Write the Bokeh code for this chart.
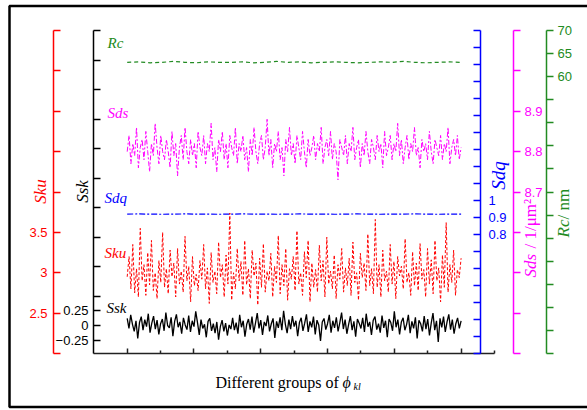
import numpy as np
from math import pi
from bokeh.plotting import figure
from bokeh.models import Range1d, LinearAxis, FixedTicker, Label, BoxAnnotation
from bokeh.embed import file_html
from bokeh.resources import INLINE

# ---------------- data ----------------
ssk = [0.12, -0.05, 0.18, 0.02, -0.10, 0.08, -0.22, 0.05, 0.15, -0.08, 0.10, -0.02, 0.20, -0.12, 0.04, 0.16, -0.06, 0.09, -0.15, 0.03,
       0.11, -0.09, 0.22, 0.00, -0.04, 0.14, -0.18, 0.07, 0.19, -0.03, 0.06, -0.14, 0.13, 0.01, -0.07, 0.17, -0.11, 0.08, -0.02, 0.24,
       0.05, -0.16, 0.10, -0.05, 0.02, -0.20, 0.07, 0.12, -0.09, 0.03, -0.13, 0.06, -0.24, -0.02, 0.09, -0.10, 0.04, -0.17, 0.01, -0.06,
       0.13, -0.08, 0.05, -0.14, 0.18, -0.03, 0.08, -0.19, 0.02, 0.11, -0.07, 0.15, -0.12, 0.04, 0.21, -0.05, 0.09, -0.16, 0.06, -0.01,
       0.17, -0.10, 0.03, 0.12, -0.21, 0.07, -0.04, 0.14, -0.08, 0.25, 0.02, -0.13, 0.10, -0.06, 0.16, -0.02, 0.08, -0.18, 0.05, 0.13,
       -0.09, 0.04, 0.19, -0.11, 0.07, -0.03, 0.15, -0.15, 0.09, 0.01, -0.26, 0.06, 0.12, -0.07, 0.03, 0.18, -0.12, 0.08, -0.04, 0.14,
       -0.10, 0.05, 0.22, -0.06, 0.10, -0.14, 0.02, 0.16, -0.08, 0.07, -0.19, 0.11, 0.04, -0.05, 0.13, -0.11, 0.20, -0.02, 0.06, -0.16,
       0.09, 0.15, -0.07, 0.03, -0.12, 0.17, -0.04, 0.08, -0.20, 0.11, 0.05, -0.09, 0.24, -0.03, 0.10, -0.15, 0.06, 0.13, -0.08, 0.02,
       0.18, -0.13, 0.07, -0.05, 0.14, -0.22, 0.09, 0.03, -0.10, 0.16, -0.06, 0.11, -0.17, 0.04, 0.21, -0.08, 0.08, -0.28, 0.12, -0.03,
       0.15, -0.11, 0.06, 0.19, -0.07, 0.10, -0.14, 0.03, 0.13, -0.05, 0.08]

sku = [2.95, 3.20, 2.80, 3.35, 2.75, 3.05, 2.70, 3.55, 2.90, 3.10, 2.72, 3.25, 2.85, 3.40, 2.78, 3.00, 2.68, 3.15, 2.88, 3.50,
       2.82, 3.05, 2.74, 3.28, 2.95, 3.12, 2.70, 3.30, 2.86, 3.02, 2.76, 3.45, 2.90, 3.08, 2.64, 3.20, 2.84, 2.98, 2.78, 3.15,
       2.92, 3.35, 2.80, 3.06, 2.62, 3.25, 2.88, 3.02, 2.74, 3.38, 2.94, 3.10, 2.70, 3.22, 2.86, 3.74, 2.66, 3.00, 2.80, 3.30,
       2.90, 3.14, 2.72, 3.40, 2.85, 3.05, 2.68, 3.28, 2.96, 3.12, 2.60, 3.18, 2.82, 3.36, 2.76, 3.02, 2.90, 3.24, 2.70, 3.08,
       2.88, 3.46, 2.74, 3.10, 2.84, 3.30, 2.66, 3.05, 2.92, 3.20, 2.78, 3.52, 2.86, 3.00, 2.72, 3.26, 2.94, 3.40, 2.64, 3.12,
       2.82, 3.04, 2.76, 3.34, 2.90, 3.15, 2.70, 3.44, 2.86, 3.02, 2.80, 3.22, 2.68, 3.10, 2.92, 3.30, 2.76, 3.06, 2.84, 3.18,
       2.72, 3.38, 2.88, 3.00, 2.66, 3.24, 2.94, 3.12, 2.78, 3.48, 2.84, 3.05, 2.74, 3.66, 2.82, 3.10, 2.70, 3.28, 2.90, 3.02,
       2.76, 3.35, 2.86, 3.14, 2.68, 3.20, 2.96, 3.08, 2.80, 3.42, 2.88, 3.00, 2.72, 3.26, 2.84, 3.12, 2.78, 3.36, 2.92, 3.04,
       2.70, 3.30, 2.86, 3.16, 2.74, 3.40, 2.90, 3.06, 2.64, 3.22, 2.82, 3.62, 2.76, 3.10, 2.88, 3.28, 2.72, 3.04, 2.94, 3.18]

sds = [8.80, 8.84, 8.77, 8.82, 8.79, 8.86, 8.76, 8.81, 8.83, 8.78, 8.85, 8.80, 8.75, 8.82, 8.79, 8.87, 8.81, 8.77, 8.84, 8.80,
       8.78, 8.83, 8.80, 8.76, 8.85, 8.79, 8.82, 8.74, 8.81, 8.84, 8.78, 8.86, 8.80, 8.77, 8.83, 8.79, 8.82, 8.76, 8.85, 8.81,
       8.79, 8.84, 8.77, 8.82, 8.80, 8.87, 8.78, 8.81, 8.75, 8.83, 8.80, 8.85, 8.78, 8.82, 8.76, 8.84, 8.81, 8.79, 8.86, 8.77,
       8.82, 8.80, 8.84, 8.78, 8.81, 8.75, 8.83, 8.79, 8.86, 8.80, 8.77, 8.82, 8.84, 8.78, 8.81, 8.88, 8.79, 8.83, 8.76, 8.82,
       8.80, 8.85, 8.78, 8.81, 8.74, 8.83, 8.80, 8.86, 8.79, 8.82, 8.77, 8.84, 8.81, 8.78, 8.85, 8.80, 8.76, 8.83, 8.79, 8.81,
       8.84, 8.78, 8.82, 8.80, 8.86, 8.77, 8.81, 8.83, 8.79, 8.85, 8.78, 8.82, 8.80, 8.73, 8.83, 8.81, 8.79, 8.84, 8.77, 8.82,
       8.80, 8.86, 8.78, 8.81, 8.83, 8.76, 8.82, 8.79, 8.85, 8.80, 8.77, 8.83, 8.81, 8.78, 8.84, 8.80, 8.82, 8.76, 8.85, 8.79,
       8.81, 8.84, 8.78, 8.82, 8.80, 8.87, 8.79, 8.83, 8.77, 8.81, 8.84, 8.78, 8.82, 8.80, 8.86, 8.79, 8.81, 8.76, 8.83, 8.80,
       8.82, 8.78, 8.85, 8.80, 8.77, 8.83, 8.81, 8.79, 8.84, 8.78, 8.82, 8.80, 8.86, 8.77, 8.81, 8.83, 8.79, 8.84, 8.78, 8.81]

sdq = [0.920, 0.921, 0.920, 0.919, 0.920, 0.921, 0.920, 0.920, 0.919, 0.920, 0.921, 0.920, 0.920, 0.919, 0.920,
       0.921, 0.920, 0.920, 0.919, 0.920, 0.921, 0.920, 0.919, 0.920, 0.920, 0.921, 0.920, 0.919, 0.920, 0.920]

rc = [63.1, 63.2, 63.0, 63.1, 63.3, 63.1, 63.0, 63.2, 63.1, 63.1, 63.2, 63.0, 63.1, 63.3, 63.1,
      63.2, 63.0, 63.1, 63.2, 63.1, 63.0, 63.1, 63.2, 63.1, 63.3, 63.1, 63.0, 63.1, 63.2, 63.1]

x_major = [0, 200, 400, 600, 800, 1000]
x_minor = [100, 300, 500, 700, 900, 1100]

ssk_major = [-0.25, 0.0, 0.25]
ssk_minor = [0.5, 1.0, 1.5, 2.0, 2.5, 3.0, 3.5, 4.0, 4.5, 5.0]
sku_major = [2.5, 3.0, 3.5]
sku_minor = [2.0, 4.0, 4.5, 5.0, 5.5, 6.0]
sdq_major = [0.8, 0.9, 1.0]
sdq_minor = [0.1, 0.2, 0.3, 0.4, 0.5, 0.6, 0.7, 1.1, 1.2, 1.3, 1.4, 1.5, 1.6, 1.7, 1.8, 1.9, 2.0]
sds_major = [8.7, 8.8, 8.9]
sds_minor = [8.3, 8.4, 8.5, 8.6, 9.0, 9.1]
rc_major = [60, 65, 70]
rc_minor = [0, 5, 10, 15, 20, 25, 30, 35, 40, 45, 50, 55]

# ---------------- geometry (canvas pixels) ----------------
W, H = 587, 410
AX_L, AX_R, AX_T, AX_B = 93, 494, 30, 353   # extent of the axes box


def lin_range(va, pa, vb, pb, lo_px, hi_px):
    """Range whose values va, vb sit at pixels pa, pb; returned for pixels lo_px..hi_px."""
    k = (vb - va) / (pb - pa)
    return va + (lo_px - pa) * k, va + (hi_px - pa) * k


X0, X1 = lin_range(0, 126.7, 1000, 460.6, 0, W)
SSK = lin_range(0.0, 325.0, 5.0, 30.0, H, 0)
SKU = lin_range(2.0, AX_B, 6.0, AX_T, H, 0)
SDQ = lin_range(0.1, AX_B, 2.0, AX_T, H, 0)
SDS = lin_range(8.3, AX_B, 9.1, AX_T, H, 0)
RC = lin_range(0.0, AX_B, 70.0, AX_T, H, 0)


def xd(px):
    return X0 + px * (X1 - X0) / W


def yd(py):
    return SSK[0] + (H - py) * (SSK[1] - SSK[0]) / H


RED, BLACK, BLUE, MAG, GREEN = "#ff0000", "#000000", "#0000ff", "#ff00ff", "#228b22"
SERIF = "Liberation Serif"
SANS = "Liberation Sans"

p = figure(width=W, height=H, x_range=Range1d(X0, X1), y_range=Range1d(*SSK),
           x_axis_location=None, y_axis_location=None, toolbar_location=None,
           output_backend="svg", min_border=0, min_border_left=0, min_border_right=0,
           min_border_top=0, min_border_bottom=0)
p.outline_line_color = None
p.background_fill_color = "white"
p.border_fill_color = "white"
p.xgrid.visible = False
p.ygrid.visible = False
p.extra_y_ranges = {"sku": Range1d(*SKU), "sdq": Range1d(*SDQ),
                    "sds": Range1d(*SDS), "rc": Range1d(*RC)}


def style_axis(ax, color, tin, tout, standoff, width=1.5):
    ax.axis_line_color = color
    ax.axis_line_width = width
    ax.major_tick_line_color = color
    ax.minor_tick_line_color = color
    ax.major_tick_line_width = width
    ax.minor_tick_line_width = width
    ax.major_tick_in = tin
    ax.major_tick_out = tout
    ax.minor_tick_in = tin
    ax.minor_tick_out = tout
    ax.major_label_text_color = color
    ax.major_label_text_font = SANS
    ax.major_label_text_font_size = "13px"
    ax.major_label_standoff = standoff


def add_yaxis(side, rname, bounds, loc_px, color, major, minor, tin, tout, standoff):
    ax = LinearAxis(y_range_name=rname, ticker=FixedTicker(ticks=major, minor_ticks=minor),
                    fixed_location=xd(loc_px), bounds=bounds)
    style_axis(ax, color, tin, tout, standoff)
    p.add_layout(ax, side)
    return ax


add_yaxis("left", "default", (yd(AX_B), 5.0), AX_L, BLACK, ssk_major, ssk_minor, 7, 0, 5)
add_yaxis("left", "sku", (2.0, 6.0), 53, RED, sku_major, sku_minor, 7, 0, 6)
add_yaxis("right", "sdq", (0.1, 2.0), 480, BLUE, sdq_major, sdq_minor, 7, 0, 8)
add_yaxis("right", "sds", (8.3, 9.1), 513, MAG, sds_major, sds_minor, 0, 7, 4)
add_yaxis("right", "rc", (0.0, 70.0), 546, GREEN, rc_major, rc_minor, 0, 7, 4)

xax = LinearAxis(ticker=FixedTicker(ticks=x_major, minor_ticks=x_minor),
                 fixed_location=yd(AX_B), bounds=(xd(AX_L), xd(AX_R)))
style_axis(xax, "#222222", 5, 0, 2)
xax.minor_tick_in = 3
xax.major_label_overrides = {v: "" for v in x_major}
p.add_layout(xax, "below")


def xs(vals):
    return np.linspace(0, 1000, len(vals))


p.line(xs(ssk), ssk, line_color=BLACK, line_width=1.3)
p.line(xs(sku), sku, y_range_name="sku", line_color=RED, line_width=1, line_dash="3 2")
p.line(xs(sds), sds, y_range_name="sds", line_color=MAG, line_width=1, line_dash="5 2 2 2")
p.line(xs(sdq), sdq, y_range_name="sdq", line_color=BLUE, line_width=1.2, line_dash="6 2 2 2")
p.line(xs(rc), rc, y_range_name="rc", line_color=GREEN, line_width=1.2, line_dash="4 3")


def lab(text, px, py, color, size, style="italic", angle=0.0, align="left", baseline="middle"):
    p.add_layout(Label(x=xd(px), y=yd(py), text=text, text_color=color, text_font=SERIF,
                       text_font_style=style, text_font_size=size, angle=angle,
                       text_align=align, text_baseline=baseline))


# series names inside the plot
lab("Rc", 107, 42, GREEN, "15px")
lab("Sds", 107, 112, MAG, "15px")
lab("Sdq", 104, 197, BLUE, "15px")
lab("Sku", 104, 252, RED, "15px")
lab("Ssk", 106, 307, BLACK, "15px")

# axis titles
lab("Sku", 40, 191, RED, "17px", angle=pi / 2, align="center")
lab("Ssk", 82, 191, BLACK, "17px", angle=pi / 2, align="center")
lab("Sdq", 498, 175, BLUE, "19px", angle=pi / 2, align="center")
lab("Sds", 530, 277, MAG, "17px", angle=pi / 2, align="left")
lab("/ 1/\u03bcm\u00b2", 530, 248, MAG, "17px", style="normal", angle=pi / 2, align="left")
lab("Rc", 563, 237, GREEN, "17px", angle=pi / 2, align="left")
lab("/ nm", 563, 219, GREEN, "17px", style="normal", angle=pi / 2, align="left")

lab("Different groups of", 215, 382, BLACK, "16px", style="normal", baseline="alphabetic")
lab("\u03d5", 342, 382, BLACK, "16px", baseline="alphabetic")
lab("kl", 353, 386, BLACK, "10px", baseline="alphabetic")

# outer frame
p.add_layout(BoxAnnotation(left=xd(9), right=xd(600), top=yd(5.5), bottom=yd(406.5),
                           fill_color=None, line_color="black", line_alpha=1.0, line_width=2.5))

open("out.html", "w").write(file_html(p, INLINE))
